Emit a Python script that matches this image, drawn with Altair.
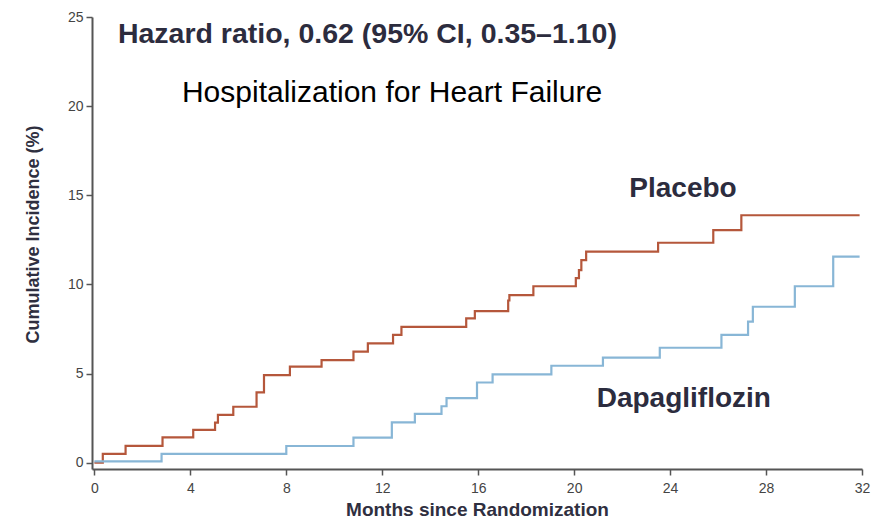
import altair as alt
import pandas as pd

# Placebo step curve (months, cumulative incidence %)
placebo_months = [0, 0.35, 1.3, 2.84, 4.12, 5.03, 5.15, 5.79, 6.76, 7.07, 8.15, 9.47, 10.8, 11.4,
                  12.45, 12.8, 15.5, 15.86, 17.25, 17.3, 18.3, 20.07, 20.2, 20.3, 20.5, 23.5,
                  25.8, 26.97, 31.9]
placebo_values = [0, 0.5, 0.95, 1.42, 1.84, 2.25, 2.68, 3.14, 3.95, 4.92, 5.39, 5.76, 6.23, 6.7,
                  7.17, 7.62, 8.1, 8.5, 9.1, 9.4, 9.9, 10.35, 10.8, 11.37, 11.84, 12.34,
                  13.05, 13.88, 13.88]

# Dapagliflozin step curve
dapa_months = [0, 2.8, 8.0, 10.8, 12.4, 13.36, 14.47, 14.68, 15.95, 16.6, 19.05, 21.2, 23.57,
               26.14, 27.25, 27.45, 29.2, 30.8, 31.9]
dapa_values = [0.08, 0.5, 0.94, 1.41, 2.27, 2.74, 3.17, 3.62, 4.5, 4.96, 5.44, 5.9, 6.45,
               7.17, 7.91, 8.75, 9.9, 11.56, 11.56]

x_ticks = [0, 4, 8, 12, 16, 20, 24, 28, 32]
y_ticks = [0, 5, 10, 15, 20, 25]

series_names = ["Placebo", "Dapagliflozin"]
series_colors = ["#b5573b", "#88b6d6"]

rows = []
for m, v in zip(placebo_months, placebo_values):
    rows.append({"month": m, "value": v, "group": "Placebo"})
for m, v in zip(dapa_months, dapa_values):
    rows.append({"month": m, "value": v, "group": "Dapagliflozin"})
df = pd.DataFrame(rows)

FONT = "Liberation Sans, Arial, Helvetica, sans-serif"

xscale = alt.Scale(domain=[-0.1, 32], nice=False)
yscale = alt.Scale(domain=[-0.35, 25], nice=False)

lines = alt.Chart(df).mark_line(interpolate="step-after", strokeWidth=2.2).encode(
    x=alt.X("month:Q", scale=xscale,
            axis=alt.Axis(values=x_ticks, title="Months since Randomization",
                          titleY=46, titleBaseline="alphabetic",
                          titleFontSize=19, titleFontWeight="bold", titleColor="#2f2f40",
                          labelFontSize=14, labelColor="#444444", labelPadding=6,
                          tickSize=6, labelFlush=False)),
    y=alt.Y("value:Q", scale=yscale,
            axis=alt.Axis(values=y_ticks, title="Cumulative Incidence (%)",
                          titleX=-54, titleY=217, titleBaseline="alphabetic",
                          titleFontSize=18, titleFontWeight="bold", titleColor="#2f2f40",
                          labelFontSize=14, labelColor="#444444", labelPadding=3,
                          tickSize=6, labelFlush=False)),
    color=alt.Color("group:N", scale=alt.Scale(domain=series_names, range=series_colors),
                    legend=None),
    detail="group:N",
)

hr_df = pd.DataFrame([{"month": 0.98, "value": 23.55, "text": "Hazard ratio, 0.62 (95% CI, 0.35–1.10)"}])
title_df = pd.DataFrame([{"month": 3.65, "value": 20.23, "text": "Hospitalization for Heart Failure"}])
lab_df = pd.DataFrame([
    {"month": 22.3, "value": 14.9, "text": "Placebo"},
    {"month": 20.94, "value": 3.13, "text": "Dapagliflozin"},
])

hr = alt.Chart(hr_df).mark_text(align="left", baseline="alphabetic", font=FONT,
                                fontSize=28.5, fontWeight="bold", color="#2c2c3e").encode(
    x=alt.X("month:Q", scale=xscale), y=alt.Y("value:Q", scale=yscale), text="text:N")
ttl = alt.Chart(title_df).mark_text(align="left", baseline="alphabetic", font=FONT,
                                    fontSize=30, color="#000000").encode(
    x=alt.X("month:Q", scale=xscale), y=alt.Y("value:Q", scale=yscale), text="text:N")
labs = alt.Chart(lab_df).mark_text(align="left", baseline="alphabetic", font=FONT,
                                   fontSize=28, fontWeight="bold", color="#2c2c3e").encode(
    x=alt.X("month:Q", scale=xscale), y=alt.Y("value:Q", scale=yscale), text="text:N")

chart = alt.layer(lines, hr, ttl, labs).properties(
    width=770, height=452,
    autosize=alt.AutoSizeParams(type="none"),
    padding={"left": 84, "top": 9, "right": 20, "bottom": 52},
    background="white",
).configure_view(stroke=None).configure_axis(
    grid=False, domainColor="#555555", domainWidth=2, tickColor="#555555", tickWidth=1.5,
    labelFont=FONT, titleFont=FONT,
).configure_text(font=FONT)

chart.save("out.html", embed_options={"renderer": "svg", "actions": False})
